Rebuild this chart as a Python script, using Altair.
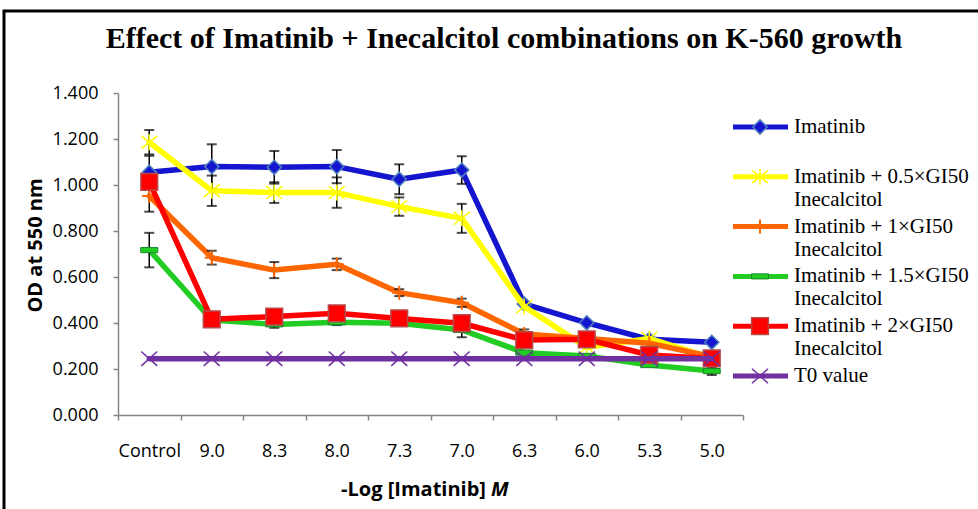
import altair as alt
import pandas as pd

# ---------------- data ----------------
categories = ["Control", "9.0", "8.3", "8.0", "7.3", "7.0", "6.3", "6.0", "5.3", "5.0"]

series_names = [
    "Imatinib",
    "Imatinib + 0.5×GI50 Inecalcitol",
    "Imatinib + 1×GI50 Inecalcitol",
    "Imatinib + 1.5×GI50 Inecalcitol",
    "Imatinib + 2×GI50 Inecalcitol",
    "T0 value",
]
legend_line1 = ["Imatinib", "Imatinib + 0.5×GI50", "Imatinib + 1×GI50",
                "Imatinib + 1.5×GI50", "Imatinib + 2×GI50", "T0 value"]
legend_line2 = ["", "Inecalcitol", "Inecalcitol", "Inecalcitol", "Inecalcitol", ""]

chart_title = ["Effect of Imatinib + Inecalcitol combinations on K-560 growth"]
x_title_main = ["-Log [Imatinib]"]
x_title_unit = ["M"]

imatinib = [1.055, 1.080, 1.077, 1.080, 1.025, 1.065, 0.483, 0.401, 0.329, 0.316]
imatinib_err = [0.072, 0.097, 0.071, 0.072, 0.065, 0.060, 0.0, 0.0, 0.0, 0.0]

gi50_05 = [1.186, 0.975, 0.967, 0.967, 0.906, 0.855, 0.471, 0.294, 0.333, 0.248]
gi50_05_err = [0.053, 0.066, 0.045, 0.066, 0.040, 0.063, 0.0, 0.0, 0.0, 0.0]

gi50_1 = [0.952, 0.684, 0.630, 0.655, 0.532, 0.488, 0.352, 0.333, 0.312, 0.254]
gi50_1_err = [0.068, 0.030, 0.035, 0.025, 0.015, 0.018, 0.020, 0.0, 0.0, 0.0]

gi50_15 = [0.717, 0.413, 0.394, 0.403, 0.399, 0.370, 0.271, 0.257, 0.217, 0.191]
gi50_15_err = [0.075, 0.012, 0.015, 0.012, 0.012, 0.032, 0.0, 0.0, 0.0, 0.017]

gi50_2 = [1.014, 0.416, 0.428, 0.442, 0.420, 0.399, 0.326, 0.329, 0.261, 0.246]
gi50_2_err = [0.0, 0.0, 0.0, 0.0, 0.0, 0.0, 0.0, 0.0, 0.0, 0.0]

t0 = [0.245, 0.245, 0.245, 0.245, 0.245, 0.245, 0.245, 0.245, 0.245, 0.245]
t0_err = [0.0, 0.0, 0.0, 0.0, 0.0, 0.0, 0.0, 0.0, 0.0, 0.0]

values = [imatinib, gi50_05, gi50_1, gi50_15, gi50_2, t0]
errors = [imatinib_err, gi50_05_err, gi50_1_err, gi50_15_err, gi50_2_err, t0_err]

# ---------------- styles ----------------
line_colors = ["#1515CF", "#FFFF00", "#FF6600", "#22CC22", "#FF0000", "#7030A0"]
marker_shapes = [
    "diamond",
    "M-1,-0.8L1,0.8M-1,0.8L1,-0.8M0,-1L0,1",
    "M0,-1L0,1M-1,0L1,0",
    "M-1,-0.3L1,-0.3L1,0.3L-1,0.3Z",
    "square",
    "M-1,-0.9L1,0.9M-1,0.9L1,-0.9",
]
marker_sizes = [200, 256, 196, 289, 280, 256]
marker_fills = ["#1515CF", "#FFFF00", "#FF6600", "#22CC22", "#FF0000", "#7030A0"]
marker_strokes = ["#4F81BD", "#FFFF00", "#FF6600", "#178A2E", "#B84A4A", "#7030A0"]
marker_stroke_w = [1.5, 1.5, 2, 1, 1.5, 1.5]

rows = []
for s, vals, errs in zip(series_names, values, errors):
    for i, (v, e) in enumerate(zip(vals, errs)):
        rows.append({"series": s, "xi": i, "value": v, "err": e})
df = pd.DataFrame(rows)

legend_df = pd.DataFrame({"series": series_names, "line1": legend_line1, "line2": legend_line2})
text_df = pd.DataFrame({"title": chart_title, "xt": x_title_main, "xu": x_title_unit})

# ---------------- scales & axes ----------------
x_tick_vals = [i / 2 for i in range(-1, 20)]
label_arr = "[" + ",".join("'" + c + "'" for c in categories) + "]"
x_axis = alt.Axis(
    values=x_tick_vals,
    labelExpr="datum.value % 1 === 0 ? " + label_arr + "[datum.value] : ''",
    tickOpacity={"condition": {"test": "datum.value % 1 !== 0", "value": 1}, "value": 0},
    grid=False, domainColor="#868686", domainWidth=1.5, tickColor="#868686",
    tickWidth=1.5, tickSize=5, labelPadding=22, labelFont="Open Sans",
    labelFontSize=18, labelColor="#000000", labelOverlap=False, labelFlush=False,
    title=None,
)
x_scale = alt.Scale(domain=[-0.5, 9.5], nice=False, zero=False)

y_axis = alt.Axis(
    values=[0, 0.2, 0.4, 0.6, 0.8, 1.0, 1.2, 1.4], format=".3f", grid=False,
    domainColor="#868686", domainWidth=1.5, tickColor="#868686", tickWidth=1.5,
    tickSize=5, labelPadding=15, labelFont="Open Sans", labelFontSize=18,
    labelColor="#000000", title="OD at 550 nm", titleFont="Open Sans",
    titleFontSize=20, titleFontWeight="bold", titleColor="#000000",
    titleX=-83, titleY=152, titleBaseline="middle",
)
y_scale = alt.Scale(domain=[0, 1.4], nice=False, zero=True)


def X():
    return alt.X("xi:Q", scale=x_scale, axis=x_axis)


def Y(field):
    return alt.Y(field + ":Q", scale=y_scale, axis=y_axis)


# ---------------- main series ----------------
main_layers = []
for k, name in enumerate(series_names):
    base = alt.Chart(df).transform_filter(alt.datum.series == name)
    main_layers.append(
        base.mark_line(color=line_colors[k], strokeWidth=5.5, strokeJoin="round", strokeCap="round")
        .encode(x=X(), y=Y("value"))
    )
    eb = base.transform_filter(alt.datum.err > 0).transform_calculate(
        lo="datum.value - datum.err", hi="datum.value + datum.err")
    main_layers.append(eb.mark_rule(color="black", strokeWidth=1.5).encode(x=X(), y=Y("lo"), y2="hi:Q"))
    main_layers.append(eb.mark_tick(orient="horizontal", color="black", size=10, thickness=2)
                       .encode(x=X(), y=Y("lo")))
    main_layers.append(eb.mark_tick(orient="horizontal", color="black", size=10, thickness=2)
                       .encode(x=X(), y=Y("hi")))
    main_layers.append(
        base.mark_point(shape=marker_shapes[k], size=marker_sizes[k], filled=True,
                        fill=marker_fills[k], stroke=marker_strokes[k],
                        strokeWidth=marker_stroke_w[k], opacity=1)
        .encode(x=X(), y=Y("value"))
    )

# decorations: frame, title, x-axis title (one row each)
deco = alt.Chart(text_df)
frame = deco.mark_rect(fillOpacity=0, stroke="black", strokeWidth=3).encode(
    x=alt.value(-114), x2=alt.value(880), y=alt.value(-82), y2=alt.value(430))
title = deco.mark_text(
    font="Liberation Serif", fontSize=30, fontWeight="bold", align="center",
    baseline="middle", color="black").encode(x=alt.value(386), y=alt.value(-54), text="title:N")
xtitle1 = deco.mark_text(
    font="Open Sans", fontSize=20, fontWeight="bold",
    align="right", baseline="middle", color="black").encode(x=alt.value(368), y=alt.value(397), text="xt:N")
xtitle2 = deco.mark_text(
    font="Open Sans", fontSize=20, fontWeight="bold", fontStyle="italic",
    align="left", baseline="middle", color="black").encode(x=alt.value(373), y=alt.value(397), text="xu:N")

main = alt.layer(*main_layers, frame, title, xtitle1, xtitle2)

# ---------------- legend ----------------
leg_y = alt.Y("series:N", scale=alt.Scale(type="point", domain=series_names, range=[34, 283], padding=0),
              axis=None)
leg_layers = []
for k, name in enumerate(series_names):
    lb = alt.Chart(legend_df).transform_filter(alt.datum.series == name)
    leg_layers.append(lb.mark_rule(color=line_colors[k], strokeWidth=5).encode(
        x=alt.value(615), x2=alt.value(670), y=leg_y))
    leg_layers.append(lb.mark_point(shape=marker_shapes[k], size=marker_sizes[k], filled=True,
                                    fill=marker_fills[k], stroke=marker_strokes[k],
                                    strokeWidth=marker_stroke_w[k], opacity=1)
                      .encode(x=alt.value(642), y=leg_y))
leg_text1 = alt.Chart(legend_df).mark_text(
    font="Liberation Serif", fontSize=21, align="left", baseline="middle", color="black"
).encode(x=alt.value(676), y=leg_y, text="line1:N")
leg_text2 = alt.Chart(legend_df).mark_text(
    font="Liberation Serif", fontSize=21, align="left", baseline="middle", color="black", dy=23
).encode(x=alt.value(676), y=leg_y, text="line2:N")
legend = alt.layer(*leg_layers, leg_text1, leg_text2)

chart = alt.layer(main, legend).resolve_scale(y="independent").properties(
    width=625, height=322,
    autosize=alt.AutoSizeParams(type="none"),
    padding={"left": 118, "top": 93, "right": 235, "bottom": 94},
    background="white",
).configure_view(stroke=None)

chart.save("out.html", embed_options={"renderer": "svg", "actions": False})
